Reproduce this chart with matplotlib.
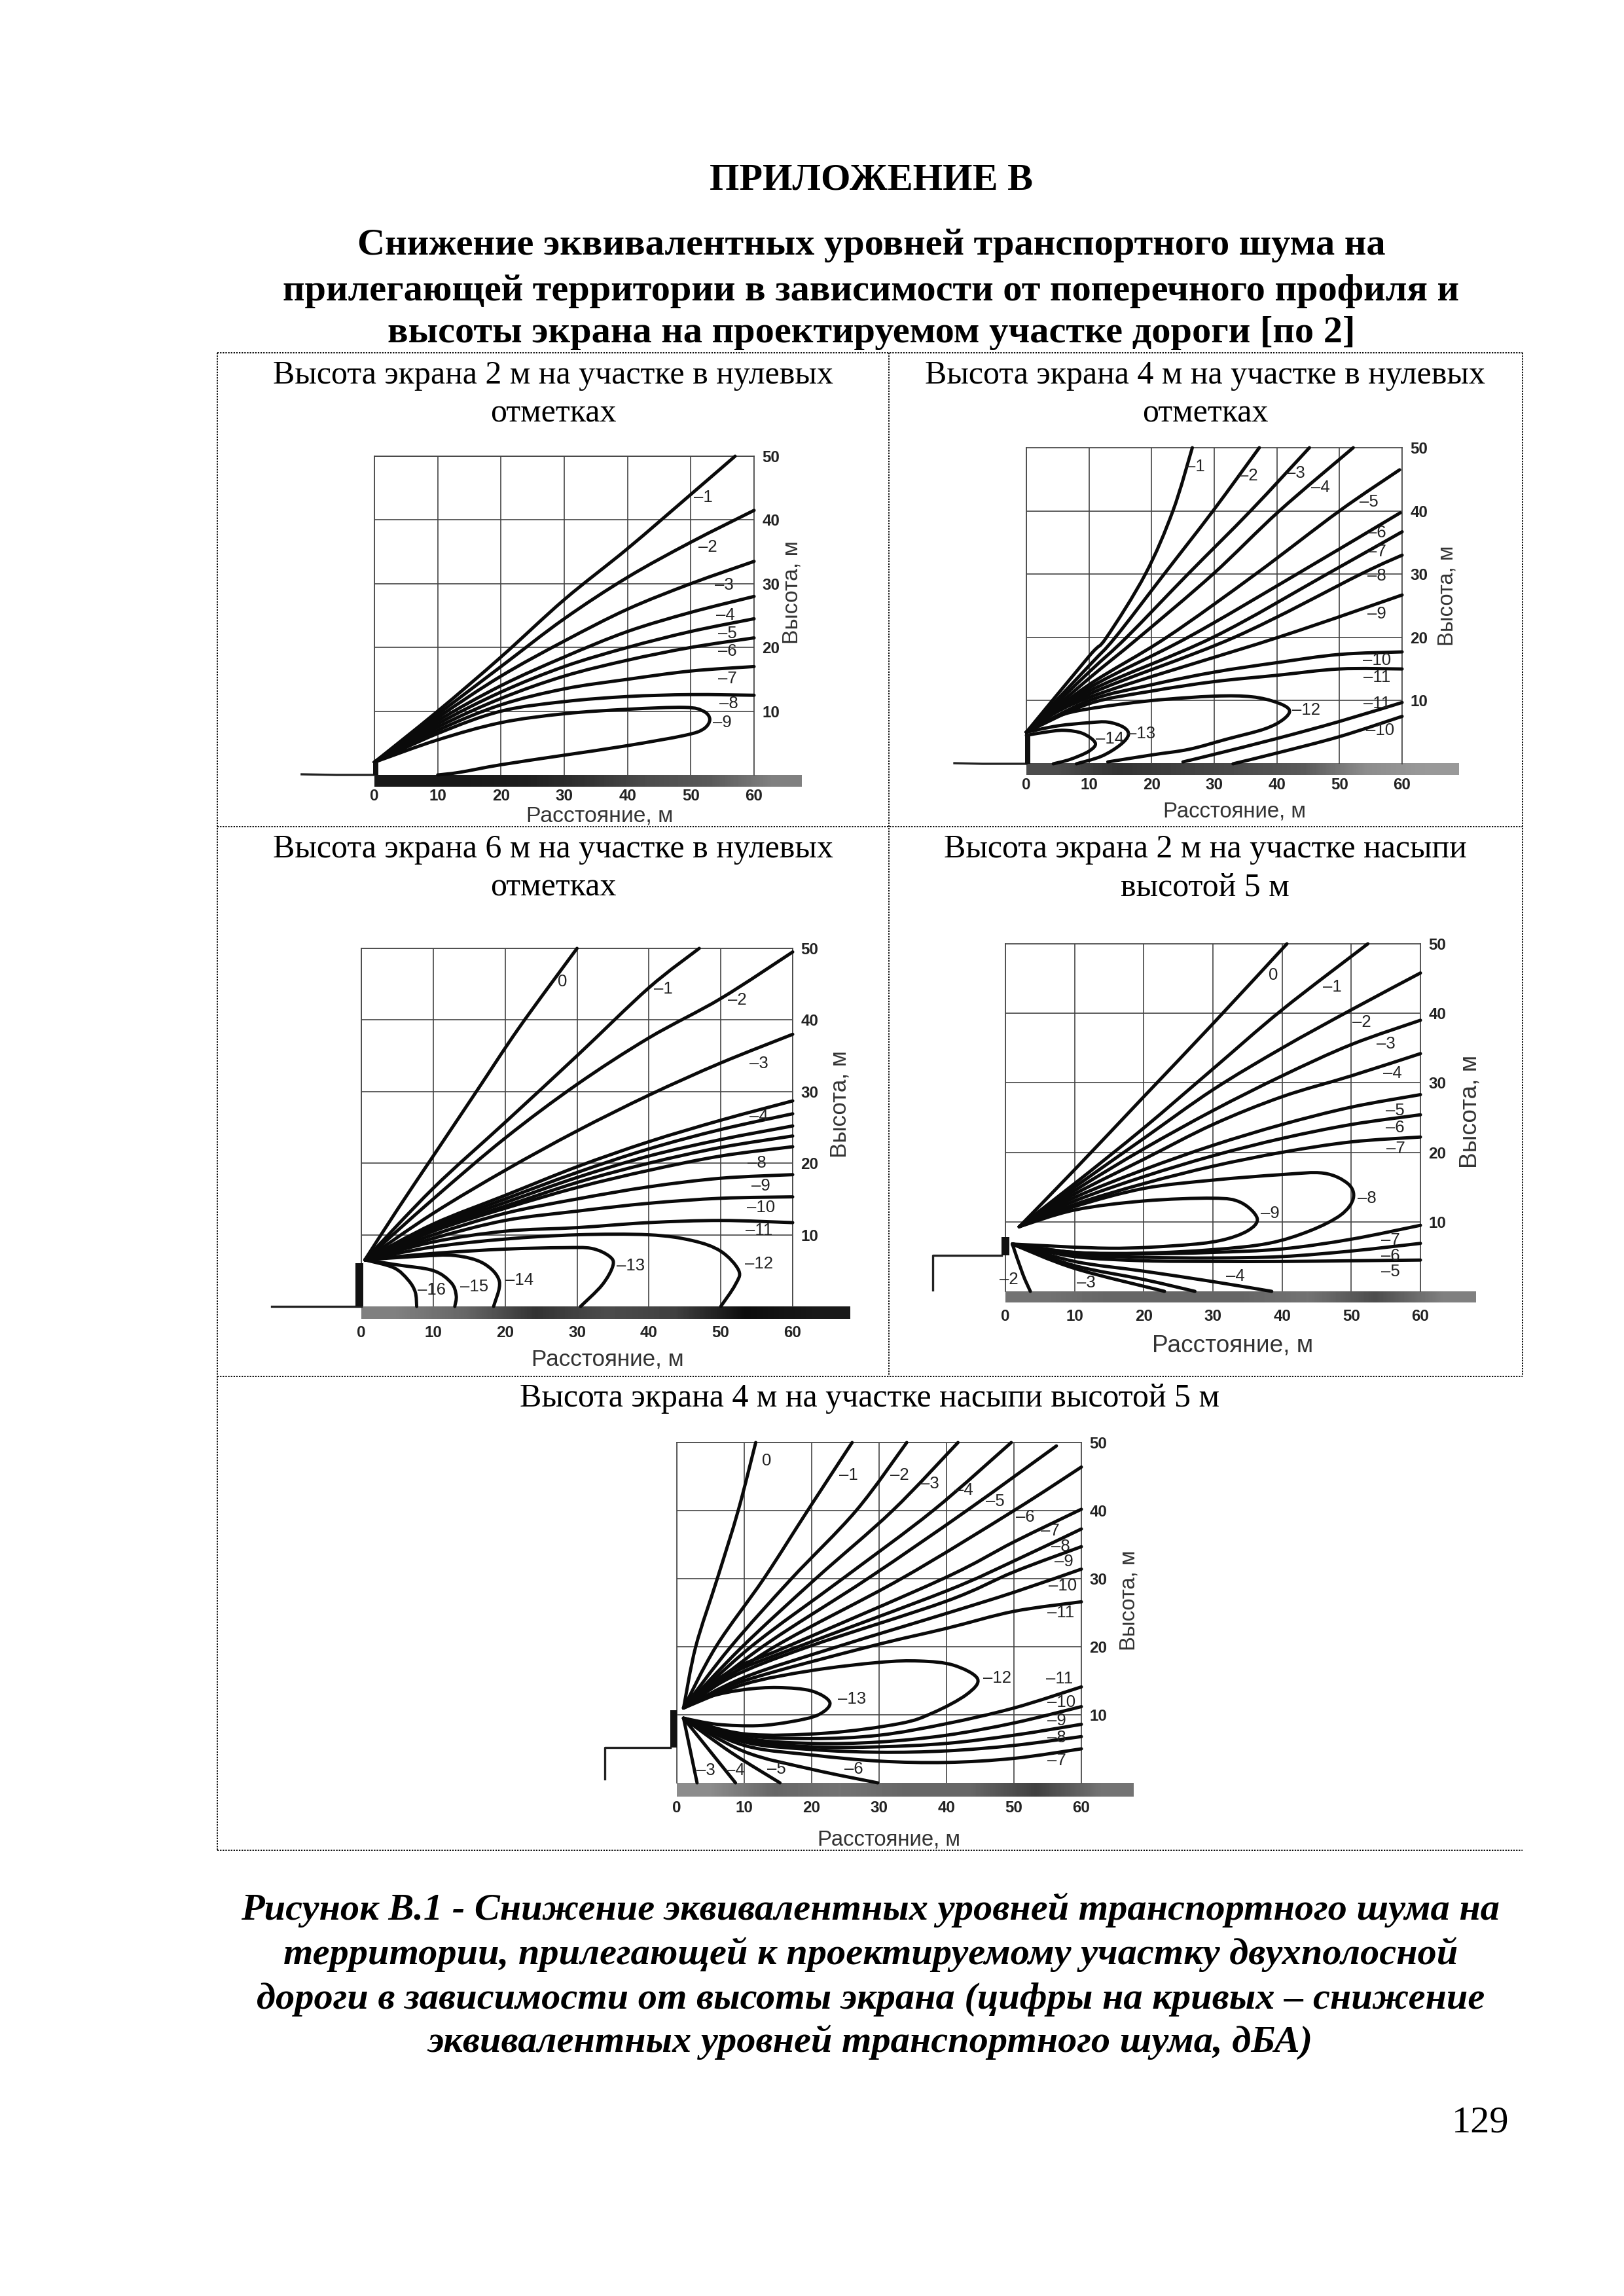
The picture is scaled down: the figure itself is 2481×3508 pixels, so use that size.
import numpy as np
import matplotlib
matplotlib.use("Agg")
import matplotlib.pyplot as plt
from matplotlib.path import Path
from matplotlib.patches import PathPatch

plt.rcParams['font.family'] = ['Liberation Sans', 'DejaVu Sans']

# page text
heading_lines = ["ПРИЛОЖЕНИЕ В",
                 "Снижение эквивалентных уровней транспортного шума на",
                 "прилегающей территории в зависимости от поперечного профиля и",
                 "высоты экрана на проектируемом участке дороги [по 2]"]
caption_lines = ["Рисунок В.1 - Снижение эквивалентных уровней транспортного шума на",
                 "территории, прилегающей к проектируемому участку двухполосной",
                 "дороги в зависимости от высоты экрана (цифры на кривых – снижение",
                 "эквивалентных уровней транспортного шума, дБА)"]
panel_titles = [["Высота экрана 2 м на участке в нулевых", "отметках"],
                ["Высота экрана 4 м на участке в нулевых", "отметках"],
                ["Высота экрана 6 м на участке в нулевых", "отметках"],
                ["Высота экрана 2 м на участке насыпи", "высотой 5 м"],
                ["Высота экрана 4 м на участке насыпи высотой 5 м"]]

x_ticks = [0, 10, 20, 30, 40, 50, 60]
y_ticks = [10, 20, 30, 40, 50]

# panel 1: screen 2 m, level ground
p1_curves = [
    [(0, 2), (10, 10), (20, 18.5), (30, 27.5), (40, 35.5), (50, 44), (57, 50)],
    [(0, 2), (10, 9.5), (20, 17), (30, 24.5), (40, 31), (50, 36.5), (60, 41.5)],
    [(0, 2), (10, 9), (20, 15.5), (30, 21), (40, 26), (50, 30), (60, 33.5)],
    [(0, 2), (10, 8.5), (20, 14), (30, 18.5), (40, 22.5), (50, 25.5), (60, 28)],
    [(0, 2), (10, 8), (20, 13), (30, 17), (40, 20), (50, 22.5), (60, 24.5)],
    [(0, 2), (10, 7.5), (20, 12), (30, 15.5), (40, 18), (50, 20), (60, 21.5)],
    [(0, 2), (10, 7), (20, 11), (30, 13.5), (40, 15), (50, 16.3), (60, 17)],
    [(0, 2), (10, 6.5), (20, 10), (30, 11.5), (40, 12.3), (50, 12.6), (60, 12.5)],
    [(0, 2), (10, 5.5), (20, 8.2), (30, 9.6), (40, 10.3), (49, 10.6), (52, 10), (53, 8.7),
     (52, 7.2), (49, 6.2), (40, 4.6), (30, 3.1), (20, 1.6), (13.4, 0.4), (10, 0)],
]
p1_labels = [("–1", 52, 43.5), ("–2", 52.7, 35.7), ("–3", 55.3, 29.8), ("–4", 55.5, 25.1),
             ("–5", 55.8, 22.2), ("–6", 55.8, 19.4), ("–7", 55.8, 15.1), ("–8", 56, 11.2),
             ("–9", 55, 8.2)]

# panel 2: screen 4 m, level ground
p2_curves = [
    [(0, 5), (10, 17), (12.8, 20), (19, 30), (23.4, 40), (26.5, 50)],
    [(0, 5), (10, 15.5), (14.2, 20), (22, 30), (29.8, 40), (37.2, 50)],
    [(0, 5), (10, 14.5), (16, 20), (25.8, 30), (35.8, 40), (45.2, 50)],
    [(0, 5), (10, 13.5), (18, 20), (29.8, 30), (40.4, 40), (52.2, 50)],
    [(0, 5), (10, 12.5), (22.4, 20), (36.6, 30), (50, 40), (59.6, 46.5)],
    [(0, 5), (10, 12), (25.8, 20), (43.2, 30), (59.7, 39.7)],
    [(0, 5), (10, 11.5), (29.8, 20), (48, 30), (60, 36.7)],
    [(0, 5), (10, 11), (33.2, 20), (53.4, 30), (60, 33)],
    [(0, 5), (10, 10.5), (40.2, 20), (60, 26.7)],
    [(0, 5), (10, 10), (20, 12.5), (30, 14.5), (40, 16), (50, 17.3), (60, 17.7)],
    [(0, 5), (10, 9.5), (20, 11.5), (30, 13), (40, 14), (50, 15), (60, 15)],
    [(0, 5), (5, 7.5), (10, 8.7), (20, 10), (30, 10.7), (36, 10.6), (40, 9.7), (42, 8.5),
     (41, 7), (38, 5.5), (32, 3.9), (26, 2.3), (20, 1.4), (13, 0.3)],
    [(0, 5), (5, 6), (10, 6.5), (13, 6.6), (15.5, 5.8), (16.3, 4.6), (15, 3), (12, 1.2), (8, 0)],
    [(0, 4.5), (3, 5), (6, 5.3), (9, 4.8), (11, 3.3), (10, 2), (7, 0.7), (4.3, 0)],
    [(25, 0.3), (30, 1.5), (40, 4), (50, 6.7), (60, 9.7)],
    [(33, 0), (40, 1.7), (50, 4.3), (60, 7.5)],
]
p2_labels = [("–1", 27, 47), ("–2", 35.5, 45.5), ("–3", 43, 46), ("–4", 47, 43.7),
             ("–5", 54.7, 41.4), ("–6", 56, 36.5), ("–7", 56, 33.5), ("–8", 56, 29.7),
             ("–9", 56, 23.7), ("–10", 56, 16.4), ("–11", 56, 13.7), ("–12", 44.7, 8.5),
             ("–13", 18.3, 4.8), ("–14", 13.3, 3.9), ("–11", 56, 9.5), ("–10", 56.5, 5.3)]

# panel 3: screen 6 m, level ground
p3_curves = [
    [(0.5, 6.5), (5, 13.5), (10, 21), (16, 30), (22, 39), (30, 50)],
    [(0.5, 6.5), (10, 16.5), (20, 25.7), (30, 35), (40, 44.5), (47, 50)],
    [(0.5, 6.5), (10, 15), (20, 23.5), (30, 31), (40, 37.5), (50, 43), (60, 49.5)],
    [(0.5, 6.5), (10, 13), (20, 19), (30, 24.5), (40, 29.5), (50, 34), (60, 38)],
    [(0.5, 6.5), (10, 11.5), (20, 15.5), (30, 19.5), (40, 23), (50, 26), (60, 28.7)],
    [(0.5, 6.5), (10, 11.2), (20, 15), (30, 18.7), (40, 22), (50, 24.7), (60, 26.9)],
    [(0.5, 6.5), (10, 11), (20, 14.5), (30, 18), (40, 21), (50, 23.3), (60, 25.2)],
    [(0.5, 6.5), (10, 10.8), (20, 14), (30, 17.3), (40, 20), (50, 22.2), (60, 23.8)],
    [(0.5, 6.5), (10, 10.5), (20, 13.7), (30, 16.6), (40, 19), (50, 21), (60, 22.3)],
    [(0.5, 6.5), (10, 10), (20, 13), (30, 15), (40, 16.7), (50, 17.9), (60, 18.4)],
    [(0.5, 6.5), (10, 9.5), (20, 12), (30, 13.3), (40, 14.4), (50, 15.1), (60, 15.3)],
    [(0.5, 6.5), (10, 9), (20, 10.5), (30, 11), (40, 11.7), (50, 12), (60, 11.7)],
    [(0.5, 6.5), (10, 8.3), (20, 9.4), (30, 10), (40, 10), (46, 9.2), (50, 7.7), (52.5, 5),
     (52, 3), (50, 0)],
    [(0.5, 6.5), (10, 7.4), (20, 8), (28, 8.2), (32, 8.1), (34.5, 7), (35, 5.7), (33.5, 3), (30.5, 0)],
    [(0.5, 6.5), (8, 7), (13, 7.1), (17, 6), (19.2, 3.5), (18.4, 0)],
    [(0.5, 6.5), (5, 5.8), (10, 5), (12.5, 3.3), (13.2, 1.5), (13, 0)],
    [(0.5, 6.5), (4.5, 5.4), (6.5, 3.7), (7.5, 2), (7.7, 0)],
]
p3_labels = [("0", 28, 45.3), ("–1", 42, 44.3), ("–2", 52.3, 42.8), ("–3", 55.3, 33.9),
             ("–4", 55.3, 26.5), ("–8", 55, 20), ("–9", 55.6, 16.8), ("–10", 55.6, 13.8),
             ("–11", 55.3, 10.6), ("–12", 55.3, 5.9), ("–13", 37.5, 5.7), ("–14", 22, 3.7),
             ("–15", 15.7, 2.7), ("–16", 9.8, 2.3)]

# panel 4: screen 2 m on a 5 m embankment
p4_curves = [
    [(2, 9.3), (10, 17.5), (20, 28), (30, 38.5), (40.7, 50)],
    [(2, 9.3), (10, 15.5), (20, 23.5), (30, 32), (40, 40.5), (52.4, 50)],
    [(2, 9.3), (10, 15), (20, 22), (30, 29), (40, 35), (50, 40.5), (60, 45.8)],
    [(2, 9.3), (10, 14.5), (20, 20.5), (30, 26), (40, 31), (50, 35.5), (60, 39)],
    [(2, 9.3), (10, 14), (20, 19), (30, 24), (40, 28), (50, 31), (60, 34.2)],
    [(2, 9.3), (10, 13.5), (20, 17.5), (30, 21), (40, 24), (50, 26.5), (60, 28.3)],
    [(2, 9.3), (10, 13), (20, 16.5), (30, 19.5), (40, 22), (50, 24), (60, 25.4)],
    [(2, 9.3), (10, 12.5), (20, 15.5), (30, 18), (40, 20), (50, 21.5), (60, 22.2)],
    [(2, 9.3), (10, 12.2), (20, 14.8), (30, 16), (40, 16.8), (46, 17), (49.5, 15.5), (50.3, 13.4),
     (48.5, 11), (44, 8.7), (38, 6.9), (30, 6), (20, 5.5), (10, 5.6), (1, 6.8)],
    [(2, 9.3), (10, 11.7), (20, 13), (30, 13.4), (34, 12.8), (36.4, 10.5), (35, 8.7), (31, 7.3),
     (25, 6.6), (15, 6.2), (1, 6.8)],
    [(1, 6.8), (10, 5.6), (20, 5.4), (30, 5.6), (40, 6.1), (50, 7.5), (60, 9.5)],
    [(1, 6.8), (10, 5.3), (20, 4.9), (30, 4.8), (40, 5), (50, 5.8), (60, 6.9)],
    [(1, 6.8), (10, 5), (20, 4.4), (30, 4.3), (40, 4.3), (50, 4.4), (60, 4.5)],
    [(1, 6.8), (10, 4.3), (20, 2.9), (30, 1.4), (38.5, 0)],
    [(1, 6.8), (10, 3.7), (20, 1.7), (27.4, 0)],
    [(1, 6.8), (10, 3.3), (23, 0)],
    [(1, 6.8), (2.5, 2.5), (3.6, 0)],
]
p4_labels = [("0", 38.7, 45.5), ("–1", 47.3, 43.8), ("–2", 51.5, 38.7), ("–3", 55, 35.6),
             ("–4", 56, 31.4), ("–5", 56.3, 26), ("–6", 56.3, 23.5), ("–7", 56.4, 20.5),
             ("–8", 52.3, 13.4), ("–9", 38.3, 11.2), ("–7", 55.7, 7.3), ("–6", 55.7, 5.1),
             ("–5", 55.7, 2.8), ("–4", 33.3, 2.2), ("–3", 11.7, 1.2), ("–2", 0.5, 1.7)]

# panel 5: screen 4 m on a 5 m embankment
p5_curves = [
    [(1, 11), (2.8, 20), (6, 30), (9.1, 40), (11.7, 50)],
    [(1, 11), (5.8, 20), (12.9, 30), (19.4, 40), (26, 50)],
    [(1, 11), (8, 20), (17, 30), (26.6, 40), (34.1, 50)],
    [(1, 11), (9.7, 20), (20.6, 30), (32, 40), (41.7, 50)],
    [(1, 11), (11, 20), (24.6, 30), (38, 40), (49.6, 50)],
    [(1, 11), (12.7, 20), (28.3, 30), (43, 40), (56.3, 49.5)],
    [(1, 11), (14.5, 20), (33.3, 30), (50, 40), (60, 46.4)],
    [(1, 11), (8, 16.5), (16.3, 20), (39.5, 30), (50, 35.4), (60, 40.2)],
    [(1, 11), (8, 16), (18, 20), (40, 28.2), (50, 32.6), (60, 37.3)],
    [(1, 11), (8, 15.5), (19.5, 20), (40, 26.7), (50, 31), (60, 34.7)],
    [(1, 11), (10, 15.5), (23.8, 20), (40, 24.9), (50, 28), (60, 31.4)],
    [(1, 11), (10, 15), (28.5, 20), (40, 22.7), (50, 25.2), (60, 26.6)],
    [(1, 11), (10, 14.5), (20, 16.5), (30, 17.7), (36, 17.9), (41, 17.3), (44.6, 15.3), (43, 13),
     (38, 10.3), (33, 8.7), (22, 7.3), (10, 7.2), (1, 9.5)],
    [(1, 11), (5, 12.7), (10, 13.7), (15, 14), (20, 13.5), (22.7, 11.8), (21, 10), (17, 9),
     (12, 8.4), (6, 8.6), (1, 9.5)],
    [(1, 9.5), (10, 7), (20, 6.5), (30, 7), (40, 8.7), (50, 11), (60, 14.1)],
    [(1, 9.5), (10, 6.6), (20, 5.8), (30, 6), (40, 7), (50, 8.8), (60, 11.2)],
    [(1, 9.5), (10, 6.3), (20, 5.3), (30, 5.3), (40, 5.8), (50, 7), (60, 8.6)],
    [(1, 9.5), (10, 6), (20, 4.9), (30, 4.5), (40, 4.7), (50, 5.5), (60, 6.8)],
    [(1, 9.5), (10, 5.5), (20, 4.1), (30, 3.2), (40, 3), (50, 3.6), (60, 5)],
    [(1, 9.5), (10, 4.6), (20, 2), (29.8, 0)],
    [(1, 9.5), (8, 4.5), (15.3, 0)],
    [(1, 9.5), (8.7, 0)],
    [(1, 9.5), (3, 0)],
]
p5_labels = [("0", 13.3, 47.3), ("–1", 25.5, 45.2), ("–2", 33, 45.2), ("–3", 37.5, 43.9),
             ("–4", 42.6, 43), ("–5", 47.2, 41.3), ("–6", 51.7, 39), ("–7", 55.4, 37),
             ("–8", 56.9, 34.7), ("–9", 57.4, 32.5), ("–10", 57.2, 28.9), ("–11", 57, 25),
             ("–12", 47.5, 15.4), ("–13", 26, 12.3), ("–11", 56.8, 15.3), ("–10", 57, 11.8),
             ("–9", 56.3, 9.1), ("–8", 56.3, 6.6), ("–7", 56.3, 3.3), ("–6", 26.2, 2),
             ("–5", 14.8, 2), ("–4", 8.7, 1.8), ("–3", 4.3, 1.8)]

# road surface left of the screen, in metres
p1_road = [(-11.5, 0.1), (-6, 0), (0, 0)]
p2_road = [(-11.5, 0.1), (-7, 0), (0, 0)]
p3_road = [(-12.5, 0), (-2, 0), (0, 0)]
p4_road = [(-10.5, 0.2), (-10.5, 5.2), (-0.6, 5.2)]
p5_road = [(-10.7, 0.6), (-10.7, 5.2), (-1, 5.2)]
# grey levels along the ground strip
p1_band = [0.1, 0.1, 0.12, 0.2, 0.3, 0.35, 0.5]
p2_band = [0.3, 0.2, 0.25, 0.3, 0.35, 0.55, 0.6]
p3_band = [0.5, 0.4, 0.2, 0.3, 0.25, 0.05, 0.1]
p4_band = [0.45, 0.4, 0.4, 0.4, 0.45, 0.3, 0.5]
p5_band = [0.55, 0.4, 0.45, 0.4, 0.4, 0.25, 0.45]


def smooth_path(pts):
    # Catmull-Rom through the read points, as cubic bezier segments
    p = np.array(pts, dtype=float)
    verts = [p[0]]
    codes = [Path.MOVETO]
    for i in range(len(p) - 1):
        a = p[max(i - 1, 0)]
        d = p[min(i + 2, len(p) - 1)]
        verts += [p[i] + (p[i + 1] - a) / 6, p[i + 1] - (d - p[i]) / 6, p[i + 1]]
        codes += [Path.CURVE4] * 3
    return Path(verts, codes)


fig = plt.figure(figsize=(2481 / 300, 3508 / 300), dpi=300)

page = fig.add_axes([0, 0, 1, 1])
page.set_xlim(0, 2481)
page.set_ylim(3508, 0)
page.axis('off')

for x0, y0, x1, y1 in [(332, 539, 2326, 539), (332, 1263, 2326, 1263), (332, 2103, 2326, 2103),
                       (332, 2827, 2326, 2827), (332, 539, 332, 2827), (2326, 539, 2326, 2103),
                       (1358, 539, 1358, 2103)]:
    page.plot([x0, x1], [y0, y1], color='k', lw=0.45, ls=(0, (1.2, 1.0)))

serif = ['Liberation Serif', 'DejaVu Serif']
for y, line in zip([275, 375, 445, 509], heading_lines):
    page.text(1331, y, line, family=serif, fontsize=14, fontweight='bold', ha='center', va='center')
for y, line in zip([2918, 2986, 3055, 3120], caption_lines):
    page.text(1330, y, line, family=serif, fontsize=14, fontweight='bold', style='italic',
              ha='center', va='center')
page.text(2305, 3244, "129", family=serif, fontsize=14, ha='right', va='center')
title_pos = [(845, [574, 632]), (1841, [574, 632]), (845, [1298, 1356]), (1841, [1298, 1356]),
             (1329, [2137])]
for (x, ys), lines in zip(title_pos, panel_titles):
    for y, line in zip(ys, lines):
        page.text(x, y, line, family=serif, fontsize=12, ha='center', va='center')

panels = [
    dict(box=(572, 1152, 697, 1184), curves=p1_curves, labels=p1_labels, road=p1_road, band=p1_band,
         screen=(-0.2, 0.6, 2), band_end=67.5, band_h=1.8, xl=(35.6, -6.5), yl=(66, 28.6),
         tick_pad=5, name_size=8.1),
    dict(box=(1568, 2142, 684, 1167), curves=p2_curves, labels=p2_labels, road=p2_road, band=p2_band,
         screen=(-0.2, 0.6, 4.8), band_end=69, band_h=1.8, xl=(33.2, -7.6), yl=(67.2, 26.6),
         tick_pad=5, name_size=7.9),
    dict(box=(552, 1211, 1449, 1996), curves=p3_curves, labels=p3_labels, road=p3_road, band=p3_band,
         screen=(-0.8, 0.3, 6), band_end=68, band_h=1.7, xl=(34.3, -7.4), yl=(66.6, 28.2),
         tick_pad=7, name_size=8.4),
    dict(box=(1536, 2170, 1442, 1973), curves=p4_curves, labels=p4_labels, road=p4_road, band=p4_band,
         screen=(-0.6, 0.6, 7.8), band_end=68, band_h=1.6, xl=(32.8, -7.8), yl=(67.2, 25.9),
         tick_pad=6.5, name_size=8.9),
    dict(box=(1034, 1652, 2204, 2724), curves=p5_curves, labels=p5_labels, road=p5_road, band=p5_band,
         screen=(-1, 0, 10.7), band_end=67.7, band_h=2, xl=(31.5, -8.4), yl=(67.1, 26.8),
         tick_pad=6.5, name_size=7.9),
]

for p in panels:
    left, right, top, bottom = p['box']
    ax = fig.add_axes([left / 2481, 1 - bottom / 3508, (right - left) / 2481, (bottom - top) / 3508],
                      facecolor='none')
    ax.set_xticks(x_ticks)
    ax.set_yticks(y_ticks)
    ax.yaxis.tick_right()
    ax.tick_params(length=0, labelsize=5.8, labelcolor='#222222')
    ax.tick_params(axis='x', pad=p['tick_pad'])
    ax.tick_params(axis='y', pad=3)
    for t in ax.get_xticklabels() + ax.get_yticklabels():
        t.set_fontweight('bold')
    ax.grid(True, color='#444444', lw=0.4)
    for side in ['top', 'left', 'right']:
        ax.spines[side].set_color('#444444')
        ax.spines[side].set_linewidth(0.4)
    ax.spines['bottom'].set_visible(False)

    ax.imshow([p['band'], p['band']], cmap='gray', vmin=0, vmax=1, aspect='auto', interpolation='bilinear',
              extent=(0, p['band_end'], -p['band_h'], 0), clip_on=False, zorder=1)
    ax.set_xlim(0, 60)
    ax.set_ylim(0, 50)

    for pts in p['curves']:
        ax.add_patch(PathPatch(smooth_path(pts), fill=False, ec='#0a0a0a', lw=1.2, clip_on=False,
                               capstyle='round', joinstyle='round', zorder=3))
    for text, x, y in p['labels']:
        ax.text(x, y, text, fontsize=6.2, color='#222222', ha='center', va='center', zorder=4)

    rx, ry = zip(*p['road'])
    ax.plot(rx, ry, color='#222222', lw=0.8, clip_on=False, zorder=3)
    sx0, sx1, sy = p['screen']
    ax.fill_between([sx0, sx1], p['road'][-1][1], sy, color='#111111', lw=0, clip_on=False, zorder=3)

    ax.set_xlabel("Расстояние, м", fontsize=p['name_size'], color='#333333')
    ax.set_ylabel("Высота, м", fontsize=p['name_size'], color='#333333')
    ax.yaxis.set_label_position('right')
    ax.xaxis.set_label_coords(p['xl'][0], p['xl'][1], transform=ax.transData)
    ax.yaxis.set_label_coords(p['yl'][0], p['yl'][1], transform=ax.transData)
    ax.xaxis.label.set_verticalalignment('center')
    ax.yaxis.label.set_verticalalignment('center')

fig.savefig("out.png", dpi=300)
